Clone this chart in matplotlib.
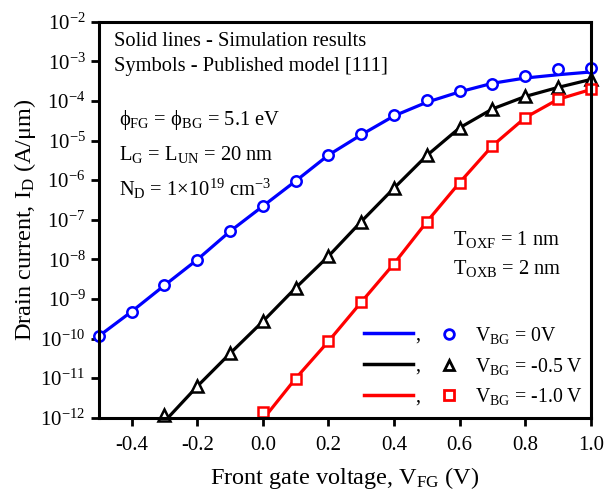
import numpy as np
import matplotlib
matplotlib.use("Agg")
import matplotlib.pyplot as plt
from matplotlib.lines import Line2D

plt.rcParams['font.family'] = ['Liberation Serif', 'DejaVu Serif']
plt.rcParams['mathtext.fontset'] = 'custom'
plt.rcParams['mathtext.rm'] = 'Liberation Serif'
plt.rcParams['mathtext.it'] = 'Liberation Serif:italic'

# published model (symbols)
vfg = [-0.5, -0.4, -0.3, -0.2, -0.1, 0.0, 0.1, 0.2, 0.3, 0.4, 0.5, 0.6, 0.7, 0.8, 0.9, 1.0]
id_vbg0 = [1.15e-10, 4.8e-10, 2.2e-9, 9.8e-9, 5.1e-8, 2.2e-7, 9.5e-7, 4.3e-6, 1.45e-5,
           4.4e-5, 1.07e-4, 1.8e-4, 2.7e-4, 4.3e-4, 6.3e-4, 6.9e-4]
vfg_b = [-0.3, -0.2, -0.1, 0.0, 0.1, 0.2, 0.3, 0.4, 0.5, 0.6, 0.7, 0.8, 0.9, 1.0]
id_vbg05 = [1.15e-12, 6.2e-12, 4.2e-11, 2.7e-10, 1.9e-9, 1.2e-8, 9e-8, 6.3e-7, 4.2e-6,
            2.1e-5, 6.3e-5, 1.3e-4, 2.2e-4, 3.5e-4]
vfg_r = [0.0, 0.1, 0.2, 0.3, 0.4, 0.5, 0.6, 0.7, 0.8, 0.9, 1.0]
id_vbg10 = [1.4e-12, 9.8e-12, 8.5e-11, 8.3e-10, 7.8e-9, 8.9e-8, 8.7e-7, 7.4e-6, 3.8e-5,
            1.1e-4, 1.95e-4]

# simulation (solid lines)
sim_vbg0 = [1.15e-10, 4.8e-10, 2.2e-9, 9.8e-9, 5.1e-8, 2.2e-7, 9.5e-7, 4.3e-6, 1.4e-5,
            4.2e-5, 9.3e-5, 1.7e-4, 2.8e-4, 3.8e-4, 4.6e-4, 5.4e-4]
sim_vbg05 = [8.0e-13, 6.2e-12, 4.2e-11, 2.7e-10, 1.9e-9, 1.2e-8, 9e-8, 6.3e-7, 4.2e-6,
             2.1e-5, 6.3e-5, 1.3e-4, 2.2e-4, 3.5e-4]
sim_vbg10 = [9.0e-13, 9.8e-12, 8.5e-11, 8.3e-10, 7.8e-9, 8.9e-8, 8.7e-7, 7.4e-6, 3.8e-5,
             1.1e-4, 1.95e-4]

labels = [r'V$_{\mathregular{BG}}$ = 0V', r'V$_{\mathregular{BG}}$ = -0.5 V', r'V$_{\mathregular{BG}}$ = -1.0 V']
colors = ['#0000ff', '#000000', '#ff0000']
markers = ['o', '^', 's']

fig = plt.figure(figsize=(6.06, 4.95), dpi=100)
ax = fig.add_axes([0.163, 0.156, 0.812, 0.8])

lw = 2.3
ax.plot(vfg, sim_vbg0, color=colors[0], lw=lw)
ax.plot(vfg_b, sim_vbg05, color=colors[1], lw=lw)
ax.plot(vfg_r, sim_vbg10, color=colors[2], lw=lw)
ax.plot(vfg, id_vbg0, ls='none', marker='o', ms=7.5, mfc='white', mec=colors[0], mew=1.8, clip_on=False)
ax.plot(vfg_b, id_vbg05, ls='none', marker='^', ms=8, mfc='white', mec=colors[1], mew=1.8, clip_on=False)
ax.plot(vfg_r, id_vbg10, ls='none', marker='s', ms=6.5, mfc='white', mec=colors[2], mew=1.8, clip_on=False)

ax.set_yscale('log')
ax.set_xlim(-0.5, 1.0)
ax.set_ylim(1e-12, 1e-2)
ax.set_xticks([-0.4, -0.2, 0.0, 0.2, 0.4, 0.6, 0.8, 1.0])
ax.set_xticklabels(['-0.4', '-0.2', '0.0', '0.2', '0.4', '0.6', '0.8', '1.0'])
ax.set_yticks([10.0**k for k in range(-12, -1)])
ax.set_yticklabels([r'10$^{\mathregular{%d}}$' % k for k in range(-12, -1)])
ax.minorticks_off()
ax.tick_params(direction='out', length=6, width=2, labelsize=15)
ax.tick_params(axis='x', pad=7)
for s in ax.spines.values():
    s.set_linewidth(2.2)

ax.set_xlabel(r'Front gate voltage, V$_{\mathregular{FG}}$ (V)', fontsize=17.5, labelpad=7)
ax.set_ylabel(r'Drain current, I$_{\mathregular{D}}$ (A/$\mathregular{\mu}$m)', fontsize=17.5, labelpad=2)

fs = 14.8
ax.text(0.03, 0.95, 'Solid lines - Simulation results', transform=ax.transAxes, fontsize=fs, va='center')
ax.text(0.03, 0.887, 'Symbols - Published model [111]', transform=ax.transAxes, fontsize=fs, va='center')
ax.text(0.042, 0.753, r'$\mathregular{\phi_{FG}}$ = $\mathregular{\phi_{BG}}$ = 5.1 eV', transform=ax.transAxes, fontsize=fs, va='center')
ax.text(0.042, 0.665, r'L$_{\mathregular{G}}$ = L$_{\mathregular{UN}}$ = 20 nm', transform=ax.transAxes, fontsize=fs, va='center')
ax.text(0.042, 0.577, r'N$_{\mathregular{D}}$ = 1$\mathregular{\times}$10$^{\mathregular{19}}$ cm$^{\mathregular{-3}}$', transform=ax.transAxes, fontsize=fs, va='center')
ax.text(0.72, 0.45, r'T$_{\mathregular{OXF}}$ = 1 nm', transform=ax.transAxes, fontsize=fs, va='center')
ax.text(0.72, 0.377, r'T$_{\mathregular{OXB}}$ = 2 nm', transform=ax.transAxes, fontsize=fs, va='center')

# legend: lines with "," then symbols with labels
line_h = [Line2D([], [], color=c, lw=2.5) for c in colors]
mark_h = [Line2D([], [], ls='none', marker=m, mfc='white', mec=c, mew=2, ms=7)
          for m, c in zip(markers, colors)]
leg1 = ax.legend(line_h, [',', ',', ','], loc='center left', bbox_to_anchor=(0.518, 0.13),
                 frameon=False, fontsize=14.3, handlelength=2.5, handletextpad=0.1,
                 labelspacing=0.6, borderpad=0)
ax.add_artist(leg1)
ax.legend(mark_h, labels, loc='center left', bbox_to_anchor=(0.671, 0.13),
          frameon=False, fontsize=14.3, handlelength=1.0, handletextpad=0.8,
          labelspacing=0.48, borderpad=0)

fig.savefig('out.png', dpi=100)
